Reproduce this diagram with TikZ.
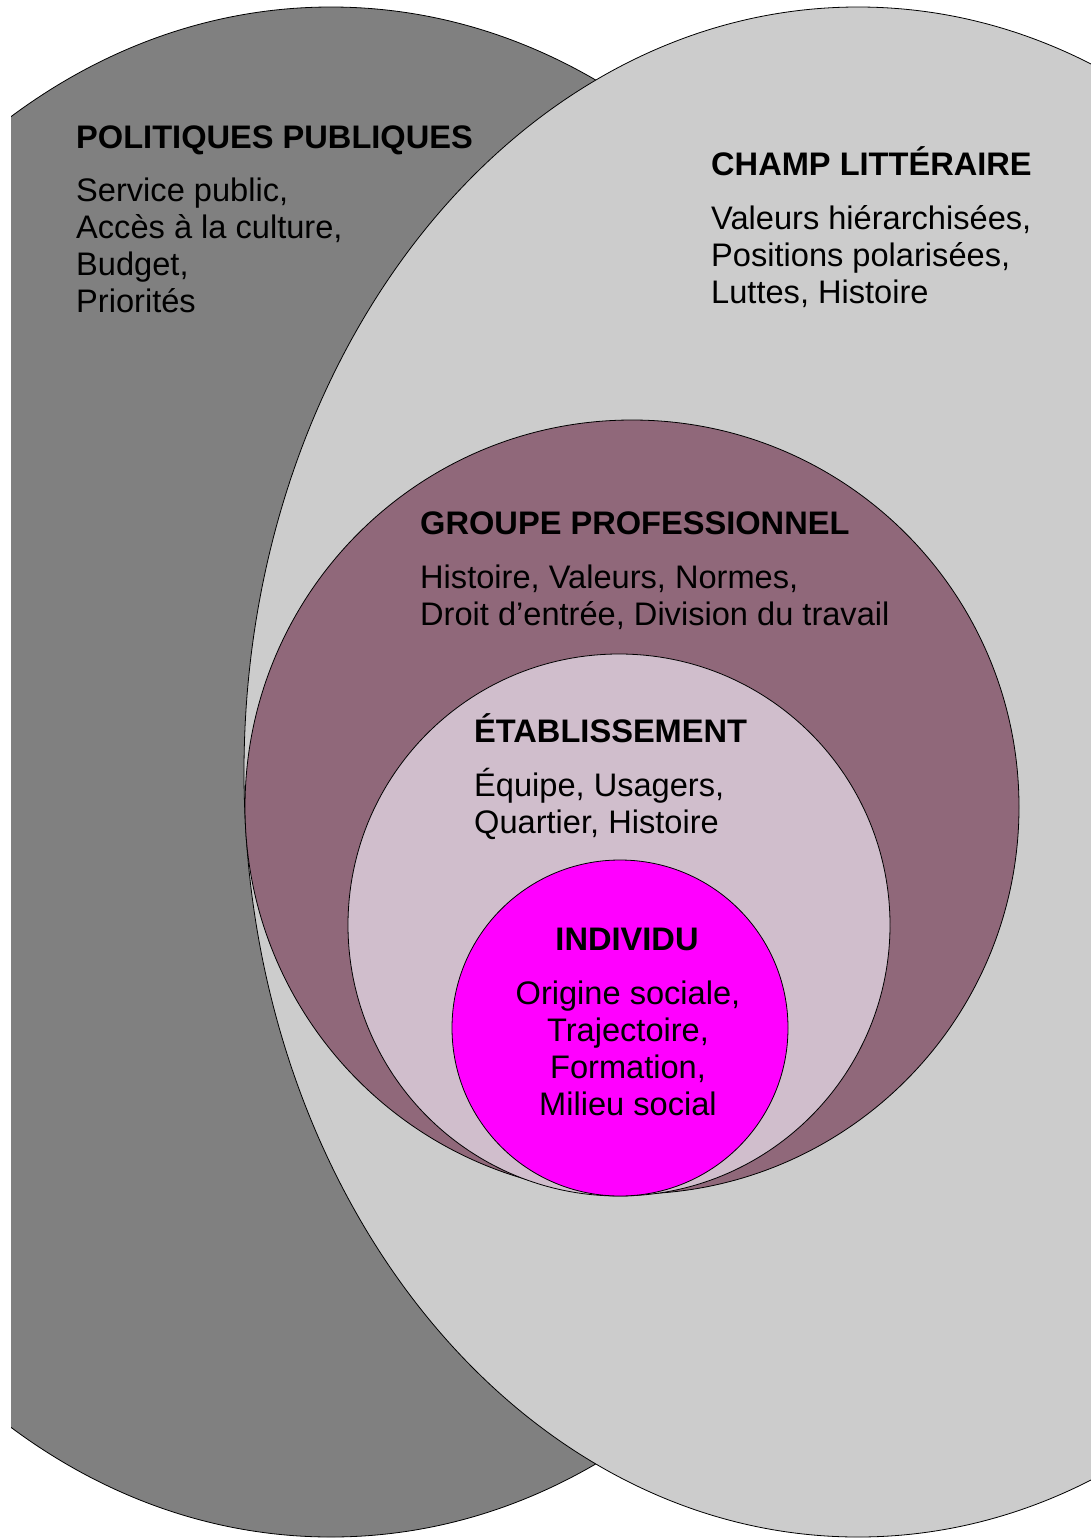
\documentclass[tikz,border=0pt]{standalone}
\usepackage{fontspec}
\setmainfont{Liberation Sans}
\usetikzlibrary{positioning}
\definecolor{grisfonce}{RGB}{128,128,128}
\definecolor{grisclair}{RGB}{204,204,204}
\definecolor{mauve}{RGB}{144,104,122}
\definecolor{rosepale}{RGB}{208,190,204}
\definecolor{fuchsia}{RGB}{255,0,255}
\tikzset{
	zone/.style={draw=black, line width=0.8pt},
	titre/.style={anchor=base west, inner sep=0pt, font=\bfseries\fontsize{32.6}{37}\selectfont},
	corps/.style={anchor=base west, inner sep=0pt, align=left, font=\fontsize{32.6}{37}\selectfont}
}
\begin{document}
\begin{tikzpicture}[x=1pt, y=-1pt, line join=round]
	\useasboundingbox (0,0) rectangle (1091,1539);
	\begin{scope}
		\clip (11,0) rectangle (1091,1539);
		\filldraw[zone, fill=grisfonce] (331,772) ellipse [x radius=620, y radius=765];
		\filldraw[zone, fill=grisclair] (858,772) ellipse [x radius=614, y radius=765];
	\end{scope}
	\filldraw[zone, fill=mauve] (632,807) circle [radius=387];
	\filldraw[zone, fill=rosepale] (619,925) circle [radius=271];
	\filldraw[zone, fill=fuchsia] (620,1028) circle [radius=168];
	% textes (base = ligne du bas)
	\node[titre] (pp) at (76,148) {POLITIQUES PUBLIQUES};
	\node[corps] (ppt) at (76,312) {Service public,\\Accès à la culture,\\Budget,\\Priorités};
	\node[titre] (cl) at (711,175) {CHAMP LITTÉRAIRE};
	\node[corps] (clt) at (711,303) {Valeurs hiérarchisées,\\Positions polarisées,\\Luttes, Histoire};
	\node[titre] (gp) at (420,534) {GROUPE PROFESSIONNEL};
	\node[corps] (gpt) at (420,625) {Histoire, Valeurs, Normes,\\Droit d’entrée, Division du travail};
	\node[titre] (et) at (474,742) {ÉTABLISSEMENT};
	\node[corps] (ett) at (474,833) {Équipe, Usagers,\\Quartier, Histoire};
	\node[titre, anchor=base] (in) at (627,950) {INDIVIDU};
	\node[corps, anchor=base, align=center] (int) at (628,1115) {Origine sociale,\\Trajectoire,\\Formation,\\Milieu social};
\end{tikzpicture}
\end{document}
